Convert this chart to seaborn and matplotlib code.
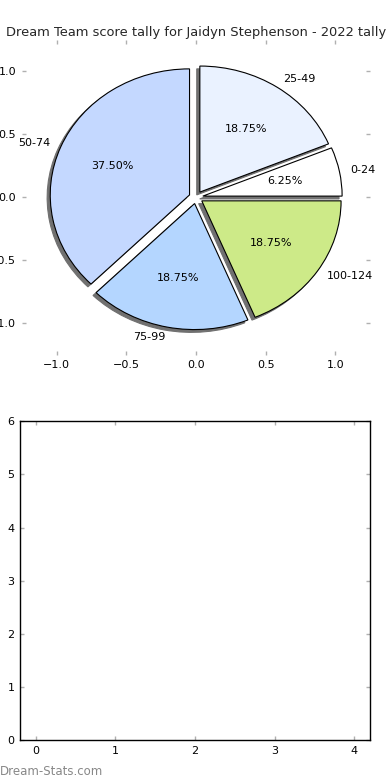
import matplotlib
matplotlib.use("Agg")
import matplotlib.pyplot as plt
import seaborn as sns

# score tally data
bands = ["0-24", "25-49", "50-74", "75-99", "100-124"]
games = [1, 3, 6, 3, 3]
colours = ["#ffffff", "#eaf2ff", "#c4d8ff", "#b4d6ff", "#cdea88"]
gaps = [0.05, 0.05, 0.05, 0.05, 0.05]

sns.set_style("white")
plt.rcParams["font.family"] = ["DejaVu Sans"]
plt.rcParams["font.size"] = 8

fig = plt.figure(figsize=(3.9, 7.8), dpi=100)

# 1. Pie of the score bands
ax1 = fig.add_axes([0.056, 0.545, 0.893, 0.404])
wedges, texts, autotexts = ax1.pie(
    games, labels=bands, colors=colours, explode=gaps, autopct="%1.2f%%",
    shadow=dict(ox=-0.016, oy=-0.016, facecolor="#707070", edgecolor="#707070", alpha=1.0),
    startangle=0, labeldistance=1.08,
    wedgeprops=dict(edgecolor="black", linewidth=0.8),
    textprops=dict(fontsize=8, color="black"), frame=True)
ax1.set_aspect("auto")
ax1.set_xlim(-1.25, 1.25)
ax1.set_ylim(-1.25, 1.25)
ax1.set_xticks([-1.0, -0.5, 0.0, 0.5, 1.0])
ax1.set_yticks([-1.0, -0.5, 0.0, 0.5, 1.0])
for s in ax1.spines.values():
    s.set_visible(False)
ax1.set_title("Dream Team score tally for Jaidyn Stephenson - 2022 tally", fontsize=9.4, pad=3)

# 2. Empty companion axes
ax2 = fig.add_axes([0.051, 0.051, 0.898, 0.409])
ax2.set_xlim(-0.2, 4.2)
ax2.set_ylim(0, 6)
ax2.set_xticks(range(5))
ax2.set_yticks(range(7))
for s in ax2.spines.values():
    s.set_visible(True)
    s.set_color("black")
    s.set_linewidth(1)

for ax in (ax1, ax2):
    ax.tick_params(direction="in", length=3, width=1, color="#b0b0b0",
                   labelsize=8, labelcolor="black", top=True, right=True,
                   bottom=True, left=True, pad=4)

fig.text(0.0, 0.003, "Dream-Stats.com", fontsize=8.5, color="#888888", ha="left", va="bottom")

fig.savefig("out.png", dpi=100)
